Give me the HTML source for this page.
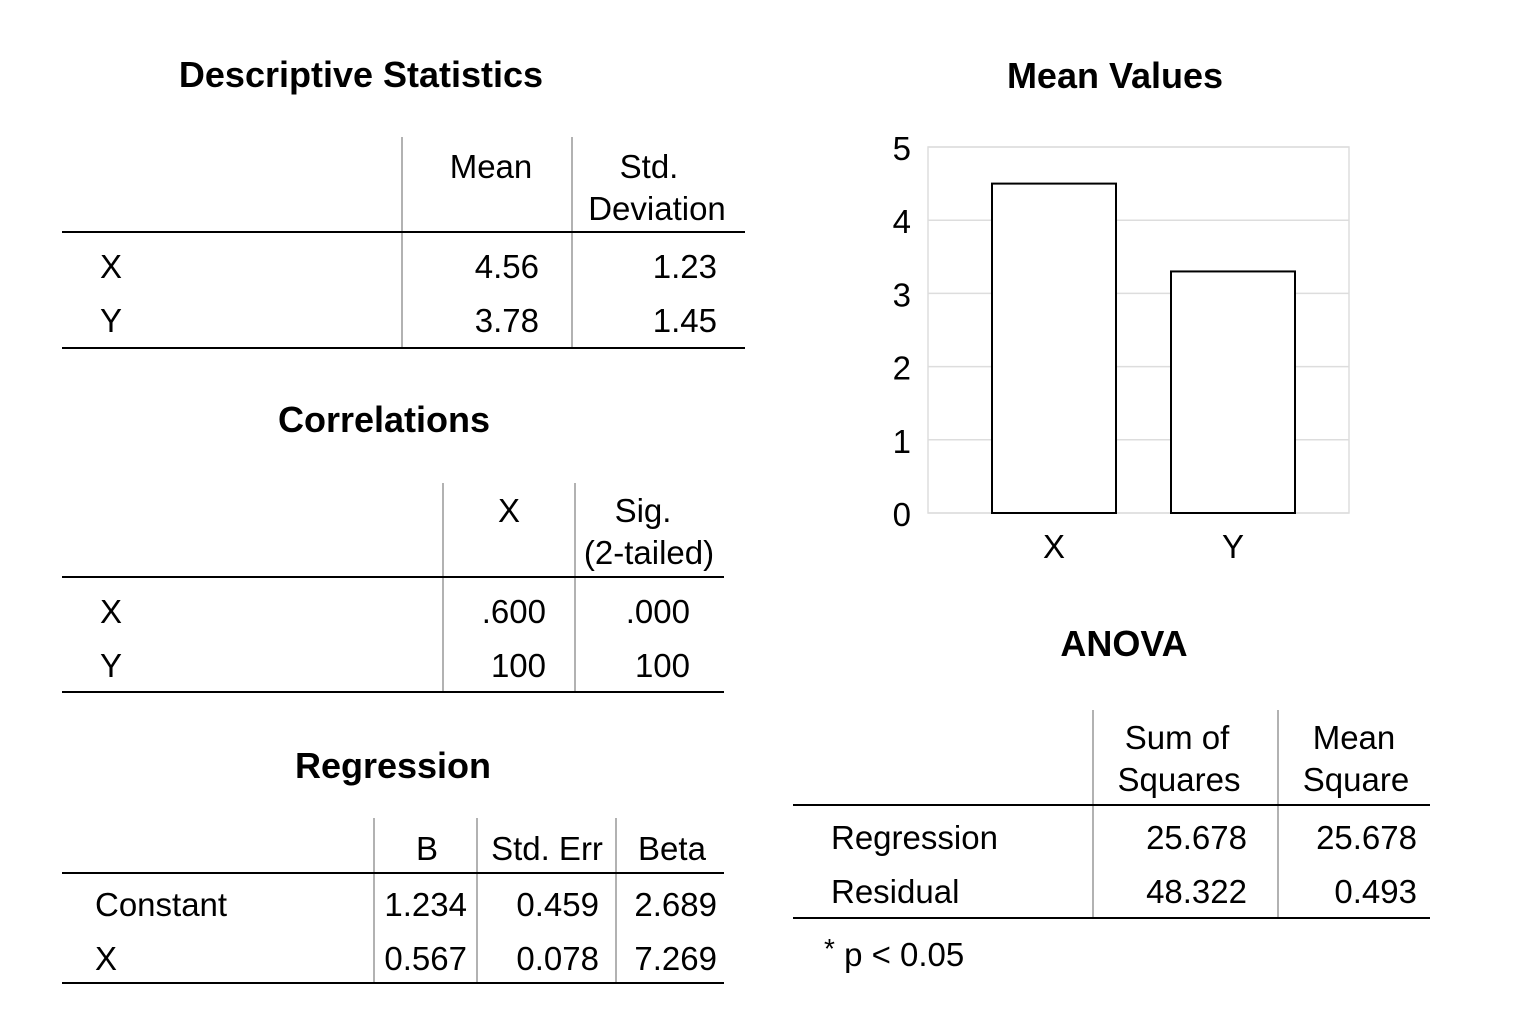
<!DOCTYPE html>
<html><head><meta charset="utf-8"><style>
html,body{margin:0;padding:0;background:#fff;}
svg{display:block;font-family:"Liberation Sans",Arial,sans-serif;}
.t{font-size:33px;fill:#000;}
.h{font-size:36px;font-weight:bold;fill:#000;}
.ln{stroke:#000;stroke-width:2;}
.vl{stroke:#999;stroke-width:1.5;}
</style></head><body>
<svg id="page" width="1536" height="1024" viewBox="0 0 1536 1024">
<g>
<text class="h" x="361" y="87" text-anchor="middle">Descriptive Statistics</text>
<line class="vl" x1="402" y1="137" x2="402" y2="348"/><line class="vl" x1="572" y1="137" x2="572" y2="348"/>
<line class="ln" x1="62" y1="232" x2="745" y2="232"/><line class="ln" x1="62" y1="348" x2="745" y2="348"/>
<text class="t" x="491" y="178" text-anchor="middle">Mean</text>
<text class="t" x="649" y="178" text-anchor="middle">Std.</text>
<text class="t" x="657" y="220" text-anchor="middle">Deviation</text>
<text class="t" x="100" y="278">X</text><text class="t" x="100" y="332">Y</text>
<text class="t" x="539" y="278" text-anchor="end">4.56</text><text class="t" x="717" y="278" text-anchor="end">1.23</text>
<text class="t" x="539" y="332" text-anchor="end">3.78</text><text class="t" x="717" y="332" text-anchor="end">1.45</text>
</g>
<g>
<text class="h" x="384" y="432" text-anchor="middle">Correlations</text>
<line class="vl" x1="443" y1="483" x2="443" y2="692"/><line class="vl" x1="575" y1="483" x2="575" y2="692"/>
<line class="ln" x1="62" y1="577" x2="724" y2="577"/><line class="ln" x1="62" y1="692" x2="724" y2="692"/>
<text class="t" x="509" y="522" text-anchor="middle">X</text>
<text class="t" x="643" y="522" text-anchor="middle">Sig.</text>
<text class="t" x="649" y="564" text-anchor="middle">(2-tailed)</text>
<text class="t" x="100" y="623">X</text><text class="t" x="100" y="677">Y</text>
<text class="t" x="546" y="623" text-anchor="end">.600</text><text class="t" x="690" y="623" text-anchor="end">.000</text>
<text class="t" x="546" y="677" text-anchor="end">100</text><text class="t" x="690" y="677" text-anchor="end">100</text>
</g>
<g>
<text class="h" x="393" y="778" text-anchor="middle">Regression</text>
<line class="vl" x1="374" y1="818" x2="374" y2="982"/><line class="vl" x1="477" y1="818" x2="477" y2="982"/><line class="vl" x1="616" y1="818" x2="616" y2="982"/>
<line class="ln" x1="62" y1="873" x2="724" y2="873"/><line class="ln" x1="62" y1="983" x2="724" y2="983"/>
<text class="t" x="427" y="860" text-anchor="middle">B</text>
<text class="t" x="547" y="860" text-anchor="middle">Std. Err</text>
<text class="t" x="672" y="860" text-anchor="middle">Beta</text>
<text class="t" x="95" y="916">Constant</text><text class="t" x="95" y="970">X</text>
<text class="t" x="467" y="916" text-anchor="end">1.234</text><text class="t" x="599" y="916" text-anchor="end">0.459</text><text class="t" x="717" y="916" text-anchor="end">2.689</text>
<text class="t" x="467" y="970" text-anchor="end">0.567</text><text class="t" x="599" y="970" text-anchor="end">0.078</text><text class="t" x="717" y="970" text-anchor="end">7.269</text>
</g>
<g>
<text class="h" x="1124" y="656" text-anchor="middle">ANOVA</text>
<line class="vl" x1="1093" y1="710" x2="1093" y2="917"/><line class="vl" x1="1278" y1="710" x2="1278" y2="917"/>
<line class="ln" x1="793" y1="805" x2="1430" y2="805"/><line class="ln" x1="793" y1="918" x2="1430" y2="918"/>
<text class="t" x="1177" y="749" text-anchor="middle">Sum of</text>
<text class="t" x="1179" y="791" text-anchor="middle">Squares</text>
<text class="t" x="1354" y="749" text-anchor="middle">Mean</text>
<text class="t" x="1356" y="791" text-anchor="middle">Square</text>
<text class="t" x="831" y="849">Regression</text><text class="t" x="831" y="903">Residual</text>
<text class="t" x="1247" y="849" text-anchor="end">25.678</text><text class="t" x="1417" y="849" text-anchor="end">25.678</text>
<text class="t" x="1247" y="903" text-anchor="end">48.322</text><text class="t" x="1417" y="903" text-anchor="end">0.493</text>
<text class="t" x="824" y="966"><tspan font-size="28" dy="-8">*</tspan><tspan dy="8"> p &lt; 0.05</tspan></text>
</g>
<text class="h" x="1115" y="88" text-anchor="middle">Mean Values</text>
<g id="chart"></g>
</svg>
<script>
const categories = ["X", "Y"];
const meanValues = [4.5, 3.3];
const yTicks = [0, 1, 2, 3, 4, 5];
const NS = "http://www.w3.org/2000/svg";
const chartG = document.getElementById("chart");
const plotLeft = 928, plotRight = 1349, plotTop = 147, plotBottom = 513, yMax = 5;
const innerPad = 126, catStep = 179;
function yScale(v){ return plotBottom - (v / yMax) * (plotBottom - plotTop); }
function xCenter(i){ return plotLeft + innerPad + i * catStep; }
const barW = 124;
function mk(tag, attrs){ const e = document.createElementNS(NS, tag); for (const k in attrs) e.setAttribute(k, attrs[k]); chartG.appendChild(e); return e; }
const frame = mk("rect", {x: plotLeft, y: plotTop, width: plotRight - plotLeft, height: plotBottom - plotTop, fill: "none", stroke: "#ddd", "stroke-width": 1.5});


yTicks.forEach(t => {
  const l = mk("line", {x1: plotLeft, x2: plotRight, y1: yScale(t), y2: yScale(t), stroke: "#ddd", "stroke-width": 1.5});
  
  
  const tx = mk("text", {x: 911, y: yScale(t) + 13, "text-anchor": "end", class: "t"});
  tx.textContent = t;
  
  
});
categories.forEach((c, i) => {
  const cx = xCenter(i);
  const r = mk("rect", {x: cx - barW / 2, y: yScale(meanValues[i]), width: barW, height: plotBottom - yScale(meanValues[i]), fill: "#fff", stroke: "#000", "stroke-width": 2});
  
  
  const tx = mk("text", {x: cx, y: 558, "text-anchor": "middle", class: "t"});
  tx.textContent = c;
  
  
});
</script>
</body></html>
